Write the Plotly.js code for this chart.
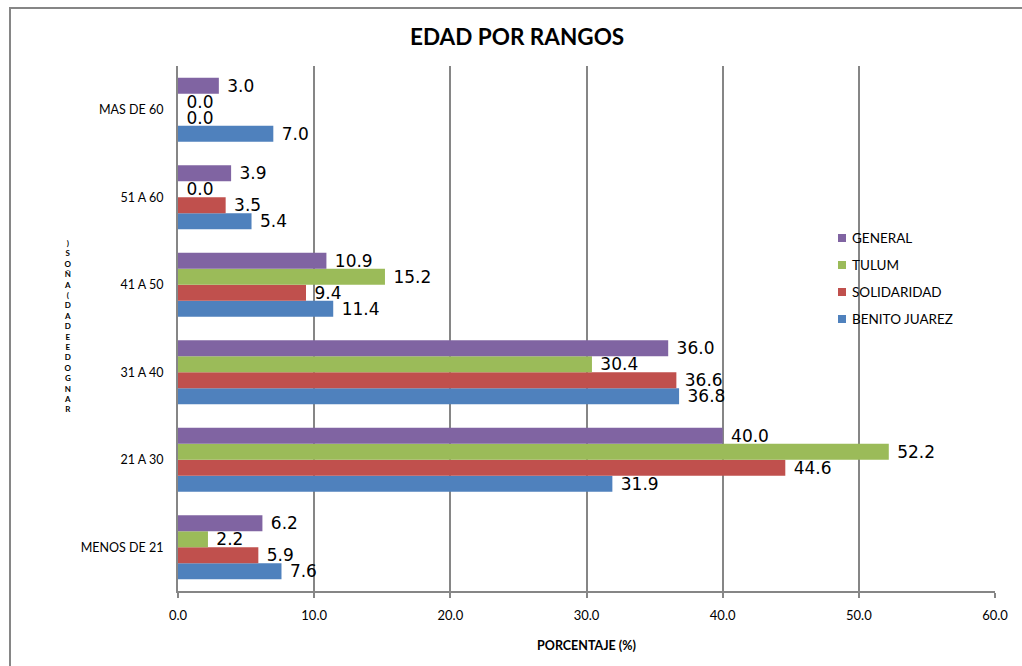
<!DOCTYPE html>
<html>
<head>
<meta charset="utf-8">
<script src="https://cdn.plot.ly/plotly-3.0.1.min.js"></script>
<style>
  body { margin: 0; background: #fff; }
  #chart { width: 1022px; height: 666px; }
</style>
</head>
<body>
<div id="chart"></div>
<script>
// categories, bottom to top
var rangos = ['MENOS DE 21', '21 A 30', '31 A 40', '41 A 50', '51 A 60', 'MAS DE 60'];

// percentages per series
var benitoJuarez = [7.6, 31.9, 36.8, 11.4, 5.4, 7.0];
var solidaridad = [5.9, 44.6, 36.6, 9.4, 3.5, 0.0];
var tulum = [2.2, 52.2, 30.4, 15.2, 0.0, 0.0];
var general = [6.2, 40.0, 36.0, 10.9, 3.9, 3.0];

var seriesNames = ['BENITO JUAREZ', 'SOLIDARIDAD', 'TULUM', 'GENERAL'];
var seriesColors = ['#4F81BD', '#C0504D', '#9BBB59', '#8064A2'];

var xTicks = [0, 10, 20, 30, 40, 50, 60];
var yTitle = 'RANGO DE EDAD (AÑOS)';

// plot box in pixels, used to place the hand made legend and y title
var L = 178, R = 995, T = 66, B = 591;
function px(x) { return (x - L) / (R - L); }
function py(y) { return (B - y) / (B - T); }

function serie(i, values) {
  return {
    y: rangos,
    x: values,
    name: seriesNames[i],
    type: 'bar',
    orientation: 'h',
    marker: { color: seriesColors[i] },
    texttemplate: ' %{x:.1f}',
    textposition: 'outside',
    constraintext: 'none',
    cliponaxis: false,
    textfont: { family: 'DejaVu Sans, sans-serif', size: 17, color: '#000' },
    hoverinfo: 'x+name',
    showlegend: false
  };
}

var data = [
  serie(0, benitoJuarez),
  serie(1, solidaridad),
  serie(2, tulum),
  serie(3, general)
];

var annotations = [];
var shapes = [];

// y title: letters stacked and reversed, like the original
var stacked = yTitle.replace(/ /g, '').split('').reverse().join('<br>');
annotations.push({
  text: '<b>' + stacked + '</b>',
  xref: 'paper', yref: 'paper',
  x: px(68), y: py(326),
  xanchor: 'center', yanchor: 'middle',
  showarrow: false,
  font: { size: 8, family: 'Lato, sans-serif', color: '#000' }
});

// legend, GENERAL on top
for (var k = 0; k < seriesNames.length; k++) {
  var i = seriesNames.length - 1 - k;
  var cy = 238 + k * 27;
  shapes.push({
    type: 'rect', xref: 'paper', yref: 'paper',
    x0: px(838), x1: px(846), y0: py(cy + 4), y1: py(cy - 4),
    fillcolor: seriesColors[i], line: { width: 0 }
  });
  annotations.push({
    text: seriesNames[i],
    xref: 'paper', yref: 'paper',
    x: px(850), y: py(cy),
    xanchor: 'left', yanchor: 'middle',
    showarrow: false,
    font: { size: 13.5, family: 'Lato, sans-serif', color: '#000' }
  });
}

// outer chart border
shapes.push({
  type: 'rect', xref: 'paper', yref: 'paper',
  x0: px(10), x1: 1.2, y0: -0.3, y1: py(8),
  line: { color: '#868686', width: 2 },
  fillcolor: 'rgba(0,0,0,0)',
  layer: 'below'
});

var layout = {
  width: 1022,
  height: 666,
  margin: { l: L, r: 1022 - R, t: T, b: 666 - B },
  paper_bgcolor: '#fff',
  plot_bgcolor: '#fff',
  font: { family: 'Lato, sans-serif', color: '#000' },
  title: {
    text: '<b>EDAD POR RANGOS</b>',
    font: { size: 22.5, family: 'Lato, sans-serif' },
    x: 0.506, xanchor: 'center',
    y: 0.945, yanchor: 'middle'
  },
  barmode: 'group',
  bargap: 0.27,
  bargroupgap: 0,
  showlegend: false,
  xaxis: {
    range: [0, 60],
    tickvals: xTicks,
    tickformat: '.1f',
    showgrid: true,
    gridcolor: '#868686',
    gridwidth: 2,
    showline: true,
    linecolor: '#868686',
    linewidth: 2,
    ticks: 'outside',
    ticklen: 5,
    tickcolor: '#868686',
    tickwidth: 2,
    ticklabelstandoff: 6,
    tickfont: { size: 13 },
    zeroline: false,
    title: { text: '<b>PORCENTAJE (%)</b>', font: { size: 12.5 }, standoff: 20 }
  },
  yaxis: {
    showline: true,
    linecolor: '#868686',
    linewidth: 2,
    showgrid: false,
    tickfont: { size: 12.5 },
    ticks: '',
    ticklabelstandoff: 10
  },
  annotations: annotations,
  shapes: shapes
};

Plotly.newPlot('chart', data, layout, { displayModeBar: false });
</script>
</body>
</html>
